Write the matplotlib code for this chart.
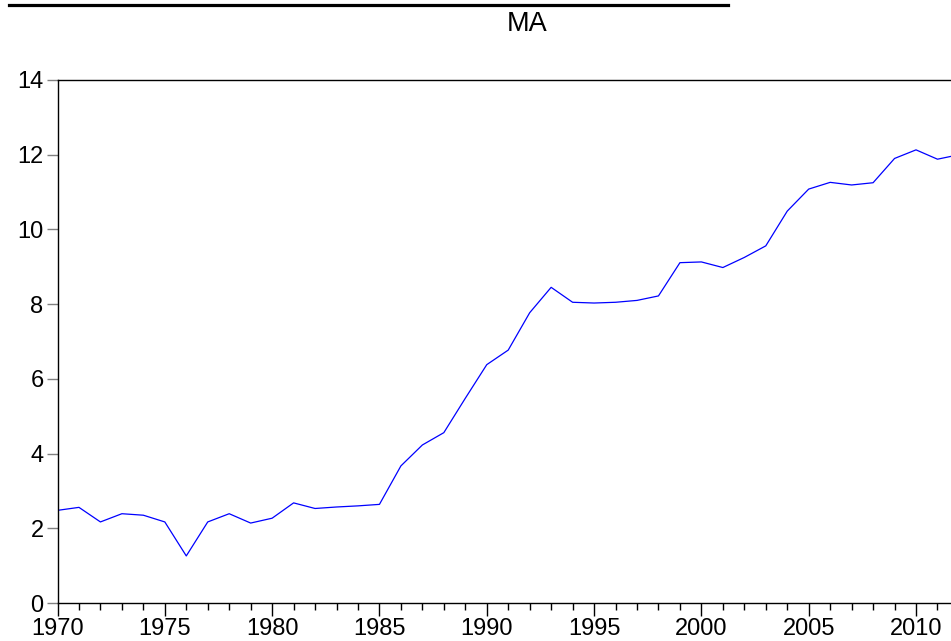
import matplotlib
matplotlib.use("Agg")
import matplotlib.pyplot as plt
from matplotlib.lines import Line2D
from matplotlib.ticker import MultipleLocator

# MA series
years = list(range(1970, 2013))
ma = [2.48, 2.56, 2.17, 2.39, 2.35, 2.17, 1.26, 2.17, 2.39, 2.14,
      2.27, 2.68, 2.53, 2.57, 2.60, 2.64, 3.67, 4.23, 4.56, 5.48,
      6.38, 6.77, 7.77, 8.45, 8.05, 8.03, 8.05, 8.10, 8.22, 9.11,
      9.13, 8.98, 9.25, 9.56, 10.49, 11.08, 11.26, 11.19, 11.25, 11.90,
      12.13, 11.88, 12.00]

y_ticks = [0, 2, 4, 6, 8, 10, 12, 14]
x_ticks = [1970, 1975, 1980, 1985, 1990, 1995, 2000, 2005, 2010]

plt.rcParams['font.family'] = ['Liberation Sans', 'DejaVu Sans']

W, H = 951, 641
fig = plt.figure(figsize=(W / 100, H / 100), dpi=100)
left, right, top, bottom = 57.5, 951, 80, 603
ax = fig.add_axes([left / W, (H - bottom) / H, (right - left) / W, (bottom - top) / H])

ax.plot(years, ma, color='#0000ff', linewidth=0.9)

ax.set_xlim(1970, 2011.63)
ax.set_ylim(0, 14)
ax.set_xticks(x_ticks)
ax.xaxis.set_minor_locator(MultipleLocator(1))
ax.set_yticks(y_ticks)

ax.spines['right'].set_visible(False)
for s in ['left', 'top', 'bottom']:
    ax.spines[s].set_linewidth(1.0)
    ax.spines[s].set_color('black')

ax.tick_params(axis='x', which='major', direction='out', length=9, width=1,
               color='black', labelsize=17, pad=2)
ax.tick_params(axis='x', which='minor', direction='out', length=5, width=1,
               color='black')
ax.tick_params(axis='y', direction='out', length=8, width=1, color='#808080',
               labelsize=17, pad=2)

fig.text(527 / W, 1 - 11 / H, 'MA', ha='center', va='top', fontsize=19.5)

# underline of the cropped figure caption at the very top
fig.add_artist(Line2D([9 / W, 728 / W], [1 - 4.5 / H, 1 - 4.5 / H],
                      color='black', linewidth=2.3, transform=fig.transFigure))

fig.savefig('out.png', dpi=100)
